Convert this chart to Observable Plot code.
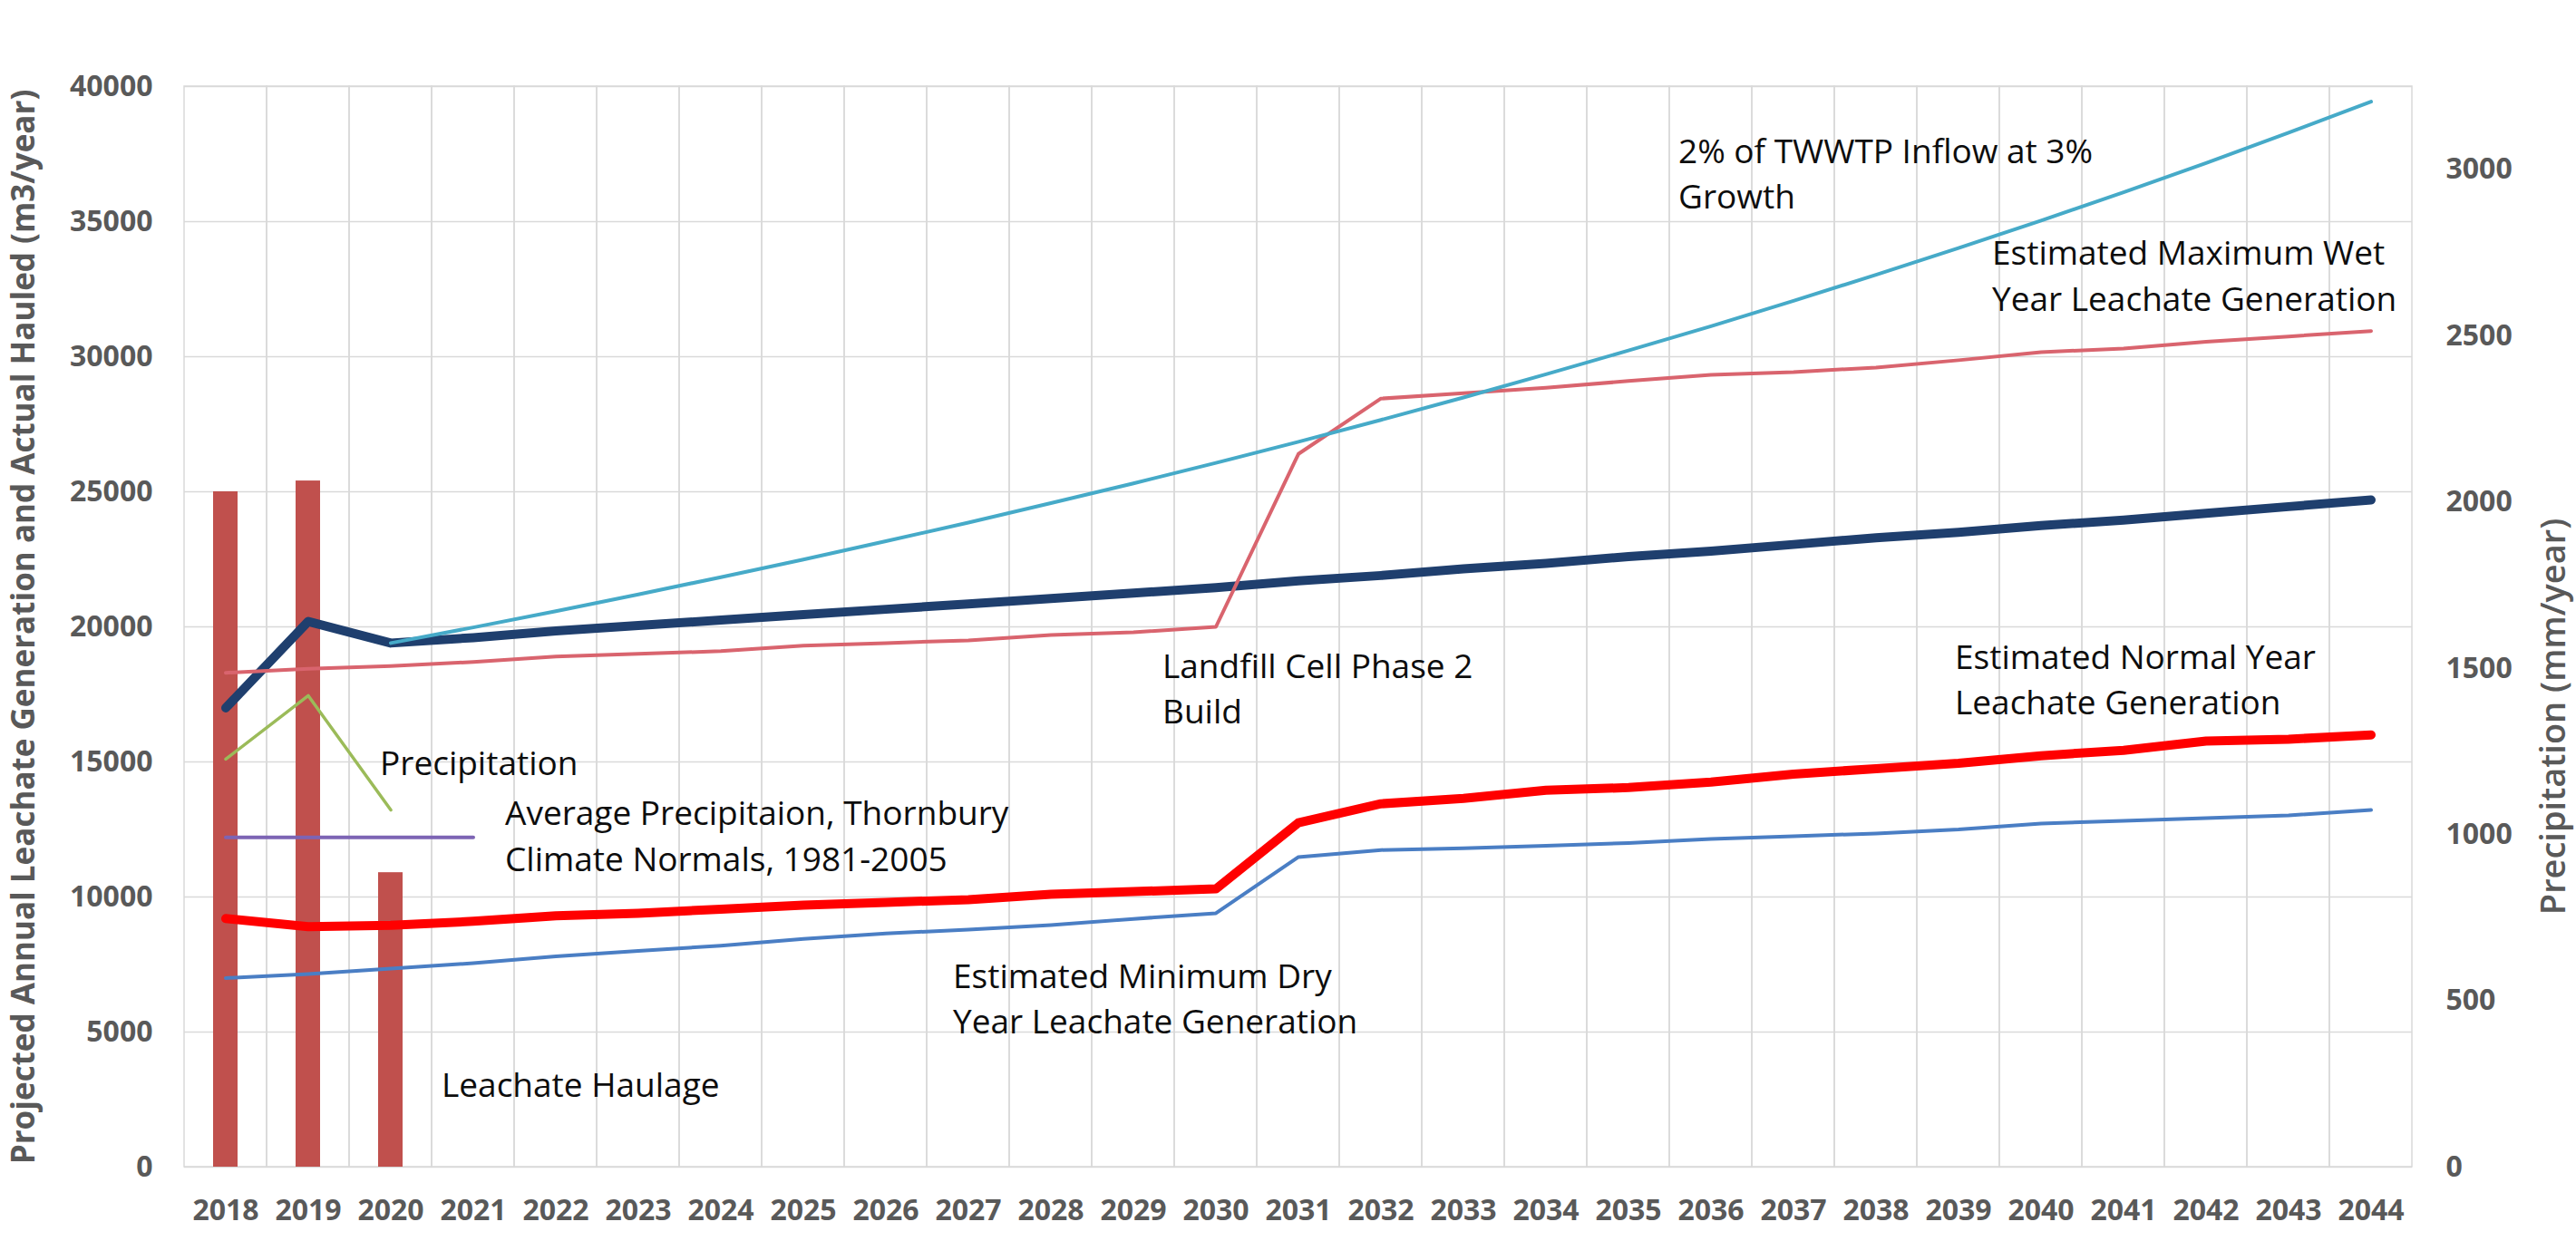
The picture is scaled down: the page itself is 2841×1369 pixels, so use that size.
<!DOCTYPE html>
<html>
<head>
<meta charset="utf-8">
<script src="https://cdn.jsdelivr.net/npm/d3@7"></script>
<script src="https://cdn.jsdelivr.net/npm/@observablehq/plot@0.6"></script>
<style>
  html, body { margin: 0; padding: 0; background: #ffffff; }
  #chart svg { display: block; }
</style>
</head>
<body>
<div id="chart"></div>
<script>
// ---------- data ----------
const years = ["2018","2019","2020","2021","2022","2023","2024","2025","2026","2027","2028","2029","2030",
  "2031","2032","2033","2034","2035","2036","2037","2038","2039","2040","2041","2042","2043","2044"];

// Leachate Haulage (actual hauled, columns)
const haulYears = ["2018","2019","2020"];
const haulage = [25000, 25400, 10900];

// Projected leachate generation (thick navy)
const projected = [17000, 20200, 19400, 19600, 19850, 20050, 20250, 20450, 20650, 20850, 21050, 21250, 21450,
  21700, 21900, 22150, 22350, 22600, 22800, 23050, 23300, 23500, 23750, 23950, 24200, 24450, 24700];

// 2% of TWWTP Inflow at 3% Growth (starts 2020)
const inflow = [null, null, 19400, 19980, 20580, 21200, 21840, 22490, 23170, 23860, 24580, 25310, 26070,
  26850, 27660, 28490, 29350, 30230, 31130, 32070, 33030, 34020, 35040, 36090, 37170, 38290, 39440];

// Estimated Maximum Wet Year Leachate Generation
const maxWet = [18300, 18450, 18550, 18700, 18900, 19000, 19100, 19300, 19400, 19500, 19700, 19800, 20000,
  26400, 28450, 28650, 28850, 29100, 29330, 29430, 29600, 29870, 30170, 30300, 30550, 30750, 30950];

// Estimated Normal Year Leachate Generation
const normal = [9200, 8900, 8950, 9100, 9300, 9400, 9550, 9700, 9800, 9900, 10100, 10200, 10300,
  12750, 13450, 13650, 13950, 14050, 14250, 14550, 14750, 14950, 15230, 15430, 15770, 15840, 16000];

// Estimated Minimum Dry Year Leachate Generation
const minDry = [7000, 7150, 7350, 7550, 7800, 8000, 8200, 8450, 8650, 8790, 8960, 9190, 9400,
  11480, 11740, 11800, 11900, 12000, 12150, 12250, 12350, 12500, 12720, 12820, 12920, 13020, 13220];

// Precipitation (mm/year, right axis)
const precipYears = ["2018","2019","2020"];
const precipitation = [1227, 1418, 1074];

// Average Precipitation, Thornbury Climate Normals 1981-2005 (mm/year, right axis)
const avgPrecipYears = ["2018","2019","2020","2021"];
const avgPrecip = [992, 992, 992, 992];

// axes
const leftTicks = [0, 5000, 10000, 15000, 20000, 25000, 30000, 35000, 40000];
const rightTicks = [0, 500, 1000, 1500, 2000, 2500, 3000];
const leftMax = 40000;
const rightMax = 3250;

const leftTitle = "Projected Annual Leachate Generation and Actual Hauled (m3/year)";
const rightTitle = "Precipitation (mm/year)";

// in-chart labels: text, anchor year, anchor value (left-axis units, baseline of last line)
const annotations = [
  {text: "2% of TWWTP Inflow at 3%\nGrowth", year: "2036", value: 35470, dx: -36},
  {text: "Estimated Maximum Wet\nYear Leachate Generation", year: "2039", value: 31710, dx: 37},
  {text: "Landfill Cell Phase 2\nBuild", year: "2029", value: 16410, dx: 32},
  {text: "Estimated Normal Year\nLeachate Generation", year: "2039", value: 16745, dx: -4},
  {text: "Estimated Minimum Dry\nYear Leachate Generation", year: "2027", value: 4933, dx: -17},
  {text: "Precipitation", year: "2020", value: 14497, dx: -12},
  {text: "Average Precipitaion, Thornbury\nClimate Normals, 1981-2005", year: "2021", value: 10973, dx: 35},
  {text: "Leachate Haulage", year: "2021", value: 2584, dx: -35}
];

// ---------- build tables ----------
const toRows = (xs, vs) => xs.map((x, i) => ({year: x, value: vs[i]})).filter(d => d.value != null);
const k = leftMax / rightMax; // right-axis units -> left-axis units

const haulRows = toRows(haulYears, haulage);
const projRows = toRows(years, projected);
const inflowRows = toRows(years, inflow);
const wetRows = toRows(years, maxWet);
const normalRows = toRows(years, normal);
const dryRows = toRows(years, minDry);
const precipRows = toRows(precipYears, precipitation);
const avgRows = toRows(avgPrecipYears, avgPrecip);

const gray = "#595959";
const font = "'Open Sans', 'Noto Sans', sans-serif";

const chart = Plot.plot({
  width: 2841,
  height: 1369,
  marginLeft: 203,
  marginRight: 181,
  marginTop: 95,
  marginBottom: 82,
  style: {fontFamily: font, background: "#ffffff"},
  x: {type: "band", domain: years, paddingInner: 0, paddingOuter: 0, axis: null},
  y: {domain: [0, leftMax], axis: null},
  marks: [
    Plot.cell(years, {x: d => d, fill: "none", stroke: "#d9d9d9", strokeWidth: 1.5}),
    Plot.gridY(leftTicks, {stroke: "#d9d9d9", strokeOpacity: 1, strokeWidth: 1.5}),
    Plot.barY(haulRows, {x: "year", y: "value", fill: "#c0504d", insetLeft: 32, insetRight: 32}),
    Plot.line(projRows, {x: "year", y: "value", stroke: "#1f3f6e", strokeWidth: 10, strokeLinejoin: "round"}),
    Plot.line(normalRows, {x: "year", y: "value", stroke: "#ff0000", strokeWidth: 10, strokeLinejoin: "round"}),
    Plot.line(dryRows, {x: "year", y: "value", stroke: "#4a7ec4", strokeWidth: 4}),
    Plot.line(wetRows, {x: "year", y: "value", stroke: "#d9646e", strokeWidth: 4}),
    Plot.line(inflowRows, {x: "year", y: "value", stroke: "#46aac8", strokeWidth: 4}),
    Plot.line(precipRows, {x: "year", y: d => d.value * k, stroke: "#9bbb59", strokeWidth: 3.5}),
    Plot.line(avgRows, {x: "year", y: d => d.value * k, stroke: "#7d64b4", strokeWidth: 4}),
    Plot.axisX({tickSize: 0, tickPadding: 36, fontSize: 32, fontWeight: 700, color: gray, label: null}),
    Plot.axisY(leftTicks, {anchor: "left", tickSize: 0, tickPadding: 35, tickFormat: "d",
      fontSize: 32, fontWeight: 700, color: gray, label: null}),
    Plot.axisY(rightTicks.map(v => v * k), {anchor: "right", tickSize: 0, tickPadding: 37,
      tickFormat: d => String(Math.round(d / k)), fontSize: 32, fontWeight: 700, color: gray, label: null}),
    ...annotations.map(a => Plot.text([a], {x: "year", y: "value", text: "text", dx: a.dx, textAnchor: "start",
      lineAnchor: "bottom", lineHeight: 1.37, fontSize: 37, fill: "#0d0d0d"})),
    Plot.text([leftTitle], {frameAnchor: "left", rotate: -90, dx: -177, textAnchor: "middle",
      lineAnchor: "middle", fontSize: 35, fontWeight: 700, fill: gray}),
    Plot.text([rightTitle], {frameAnchor: "right", rotate: -90, dx: 156, dy: 99, textAnchor: "middle",
      lineAnchor: "middle", fontSize: 38, fontWeight: 600, fill: gray})
  ]
});

document.getElementById("chart").append(chart);
</script>
</body>
</html>
